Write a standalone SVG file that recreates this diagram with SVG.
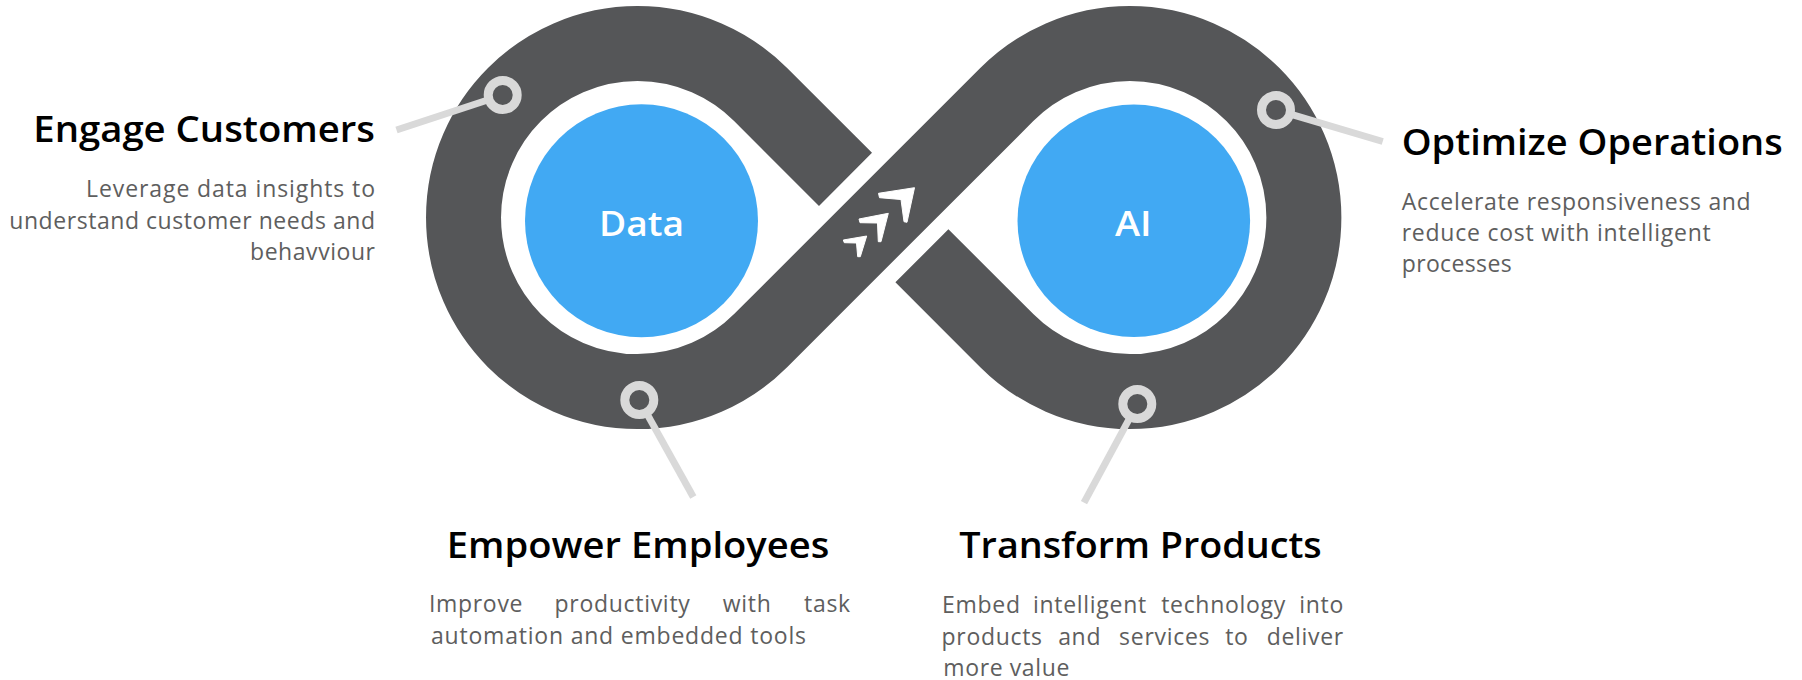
<svg xmlns="http://www.w3.org/2000/svg" width="1802" height="680" viewBox="0 0 1802 680">
<style>
.band{fill:none;stroke:#555658;stroke-width:75;stroke-linecap:butt;stroke-linejoin:round}
.hub{fill:#41a9f3}
.hubtxt{font-family:"Open Sans","Liberation Sans",sans-serif;font-weight:600;font-size:35px;fill:#ffffff}
.ring{fill:none;stroke:#d9d9d9;stroke-width:9}
.lead{stroke:#d9d9d9;stroke-width:7;stroke-linecap:butt}
.arrow{fill:#ffffff;stroke:#ffffff;stroke-width:1;stroke-linejoin:round}
.head{font-family:"Open Sans","Liberation Sans",sans-serif;font-weight:600;font-size:36px;fill:#000000}
.body{font-family:"Open Sans","Liberation Sans",sans-serif;font-weight:400;font-size:23px;fill:#5e5e5e}
.just{text-anchor:middle;letter-spacing:0.7px}
</style>

<g id="infinity">
  <path class="band" d="M 921.9 255.8 L 1006.8 340.6 A 174 174 0 1 0 1006.8 94.6 L 760.6 340.6 A 174 174 0 1 1 760.6 94.6 L 845.5 179.4"/>
  <g id="flow-arrows">
    <polygon class="arrow" points="914.5,187.7 878.5,193.3 879.5,197.7 901,199.5 904,221.7 907,222.3"/>
    <polygon class="arrow" points="888.3,213.3 859,219 860,222.7 877.5,223 878.3,241.7 881,241.7"/>
    <polygon class="arrow" points="866.7,236 843.3,240 844.3,242.7 856.5,243 857.7,256.7 860.3,256.7"/>
  </g>
</g>

<g id="node-data">
  <circle class="hub" cx="641.5" cy="220.8" r="116.5"/>
  <text class="hubtxt" x="599" y="236" textLength="85" lengthAdjust="spacingAndGlyphs">Data</text>
</g>

<g id="node-ai">
  <circle class="hub" cx="1133.8" cy="220.8" r="116.3"/>
  <text class="hubtxt" x="1115" y="236" textLength="36.7" lengthAdjust="spacingAndGlyphs">AI</text>
</g>

<g id="connectors">
  <line class="lead" x1="488.5" y1="99.7" x2="396.5" y2="130"/>
  <line class="lead" x1="646.6" y1="413.1" x2="693.3" y2="497"/>
  <line class="lead" x1="1290.4" y1="114.2" x2="1382.7" y2="141.5"/>
  <line class="lead" x1="1130.2" y1="417.2" x2="1084" y2="502.7"/>
</g>

<g id="marker-engage"><circle class="ring" cx="502.7" cy="95" r="14.5"/></g>
<g id="marker-empower"><circle class="ring" cx="639.3" cy="400" r="14.5"/></g>
<g id="marker-optimize"><circle class="ring" cx="1276" cy="110" r="14.5"/></g>
<g id="marker-transform"><circle class="ring" cx="1137.3" cy="404" r="14.5"/></g>

<g id="label-engage">
  <text class="head" x="33.3" y="141.7" textLength="341.7" lengthAdjust="spacingAndGlyphs">Engage Customers</text>
  <text class="body" x="86" y="197" textLength="289" lengthAdjust="spacing">Leverage data insights to</text>
  <text class="body" x="9.3" y="228.5" textLength="365.7" lengthAdjust="spacing">understand customer needs and</text>
  <text class="body" x="250" y="260" textLength="125" lengthAdjust="spacing">behavviour</text>
</g>

<g id="label-optimize">
  <text class="head" x="1401.7" y="155" textLength="381" lengthAdjust="spacingAndGlyphs">Optimize Operations</text>
  <text class="body" x="1401.7" y="210" textLength="349" lengthAdjust="spacing">Accelerate responsiveness and</text>
  <text class="body" x="1401.7" y="241" textLength="309" lengthAdjust="spacing">reduce cost with intelligent</text>
  <text class="body" x="1401.7" y="272" textLength="110" lengthAdjust="spacing">processes</text>
</g>

<g id="label-empower">
  <text class="head" x="446.7" y="558.3" textLength="382.6" lengthAdjust="spacingAndGlyphs">Empower Employees</text>
  <text class="body just" y="612"><tspan x="479.4">Improve</tspan> <tspan x="625.9">productivity</tspan> <tspan x="750.5">with</tspan> <tspan x="827.5">task</tspan></text>
  <text class="body" x="431" y="643.5" textLength="375" lengthAdjust="spacing">automation and embedded tools</text>
</g>

<g id="label-transform">
  <text class="head" x="959.3" y="557.5" textLength="362.4" lengthAdjust="spacingAndGlyphs">Transform Products</text>
  <text class="body just" y="613"><tspan x="984.7">Embed</tspan> <tspan x="1093.3">intelligent</tspan> <tspan x="1226.9">technology</tspan> <tspan x="1321.7">into</tspan></text>
  <text class="body just" y="645"><tspan x="995.5">products</tspan> <tspan x="1083">and</tspan> <tspan x="1168">services</tspan> <tspan x="1240.2">to</tspan> <tspan x="1305.3">deliver</tspan></text>
  <text class="body" x="943.3" y="676" textLength="126" lengthAdjust="spacing">more value</text>
</g>
</svg>
